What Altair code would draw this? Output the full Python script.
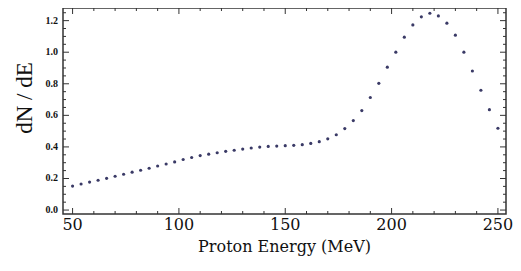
import altair as alt
import pandas as pd

energy = [50, 54, 58, 62, 66, 70, 74, 78, 82, 86, 90, 94, 98, 102, 106, 110,
          114, 118, 122, 126, 130, 134, 138, 142, 146, 150, 154, 158, 162, 166,
          170, 174, 178, 182, 186, 190, 194, 198, 202, 206, 210, 214, 218, 222,
          226, 230, 234, 238, 242, 246, 250]
dnde = [0.152, 0.165, 0.177, 0.189, 0.201, 0.214, 0.227, 0.240, 0.252, 0.265,
        0.279, 0.292, 0.305, 0.320, 0.333, 0.345, 0.354, 0.363, 0.372, 0.379,
        0.386, 0.393, 0.399, 0.403, 0.405, 0.408, 0.410, 0.414, 0.422, 0.433,
        0.451, 0.477, 0.516, 0.567, 0.630, 0.713, 0.803, 0.905, 1.000, 1.095,
        1.173, 1.224, 1.247, 1.230, 1.184, 1.108, 1.000, 0.881, 0.759, 0.636,
        0.518]

x_major = [50, 100, 150, 200, 250]
x_minor = [60, 70, 80, 90, 110, 120, 130, 140, 160, 170, 180, 190,
           210, 220, 230, 240]
y_major = [0.0, 0.2, 0.4, 0.6, 0.8, 1.0, 1.2]
y_minor = [0.05, 0.1, 0.15, 0.25, 0.3, 0.35, 0.45, 0.5, 0.55, 0.65, 0.7,
           0.75, 0.85, 0.9, 0.95, 1.05, 1.1, 1.15, 1.25]
x_title = ["Proton Energy (MeV)"]
y_title = ["dN / dE"]

df = pd.DataFrame({"E": energy, "dNdE": dnde})

W, H = 443, 206
FRAME = "#333333"
TXT = "#111111"
xs = alt.Scale(domain=[45.5, 253.8], nice=False, zero=False)
ys = alt.Scale(domain=[-0.025, 1.28], nice=False, zero=False)

points = alt.Chart(df).mark_circle(size=10, color="#3a3a66", opacity=1).encode(
    x=alt.X("E:Q", scale=xs, axis=None),
    y=alt.Y("dNdE:Q", scale=ys, axis=None),
)


def x_ticks(vals, length, edge):
    d = pd.DataFrame({"v": vals})
    return alt.Chart(d).mark_tick(
        orient="vertical", size=2 * length, thickness=1, color=FRAME,
        clip=True, opacity=1
    ).encode(x=alt.X("v:Q", scale=xs, axis=None), y=alt.value(edge))


def y_ticks(vals, length, edge):
    d = pd.DataFrame({"v": vals})
    return alt.Chart(d).mark_tick(
        orient="horizontal", size=2 * length, thickness=1, color=FRAME,
        clip=True, opacity=1
    ).encode(y=alt.Y("v:Q", scale=ys, axis=None), x=alt.value(edge))


x_labels = alt.Chart(pd.DataFrame({"v": x_major})).mark_text(
    font="DejaVu Serif", fontSize=16, color=TXT, align="center", baseline="top"
).encode(
    x=alt.X("v:Q", scale=xs, axis=None), y=alt.value(H + 3),
    text=alt.Text("v:Q", format="d"),
)

y_labels = alt.Chart(pd.DataFrame({"v": y_major})).mark_text(
    font="Liberation Serif", fontSize=10, fontWeight="bold", color=TXT,
    align="right", baseline="middle"
).encode(
    y=alt.Y("v:Q", scale=ys, axis=None), x=alt.value(-5),
    text=alt.Text("v:Q", format=".1f"),
)

x_title_layer = alt.Chart(pd.DataFrame({"t": x_title})).mark_text(
    font="DejaVu Serif", fontSize=16, color=TXT, align="center", baseline="top"
).encode(x=alt.value(W / 2), y=alt.value(H + 25), text="t:N")

y_title_layer = alt.Chart(pd.DataFrame({"t": y_title})).mark_text(
    font="Liberation Serif", fontSize=23, color=TXT, align="center",
    baseline="bottom", angle=270
).encode(x=alt.value(-26), y=alt.value(90), text="t:N")

chart = alt.layer(
    x_ticks(x_major, 6, H), x_ticks(x_minor, 3, H),
    x_ticks(x_major, 6, 0), x_ticks(x_minor, 3, 0),
    y_ticks(y_major, 6, 0), y_ticks(y_minor, 3, 0),
    y_ticks(y_major, 6, W), y_ticks(y_minor, 3, W),
    x_labels, y_labels, x_title_layer, y_title_layer,
    points,
).properties(
    width=W, height=H,
    autosize=alt.AutoSizeParams(type="none"),
    padding={"left": 55, "top": 0, "right": 7, "bottom": 50},
).configure_view(stroke=FRAME, strokeWidth=1.5)

chart.save("out.html", embed_options={"renderer": "svg", "actions": False})
